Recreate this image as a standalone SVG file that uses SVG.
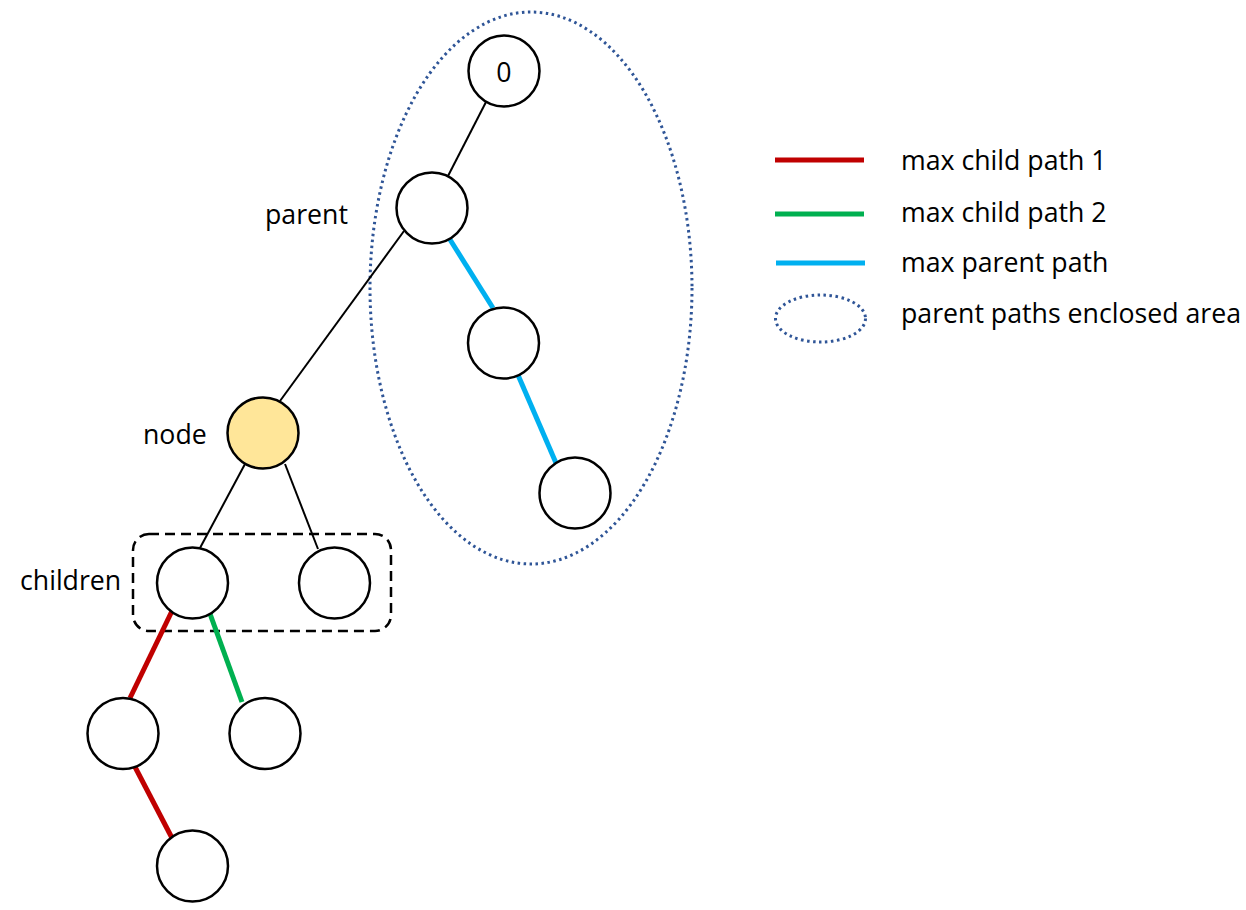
<svg xmlns="http://www.w3.org/2000/svg" width="1246" height="910" viewBox="0 0 1246 910">
<style>
.n{fill:#fff;stroke:#000;stroke-width:2.5}
.t{font-family:"Open Sans","Liberation Sans",sans-serif;font-size:26.7px;fill:#000}
.k{stroke:#000;stroke-width:2}
.r{stroke:#C00000;stroke-width:5}
.g{stroke:#00B050;stroke-width:5}
.b{stroke:#00B0F0;stroke-width:5}
.dot{fill:none;stroke:#2F5597;stroke-width:3;stroke-dasharray:2.5 3.5}
</style>
<rect width="1246" height="910" fill="#fff"/>
<ellipse class="dot" cx="531" cy="288" rx="161" ry="276"/>
<rect x="133" y="534" width="258" height="97" rx="16" fill="none" stroke="#000" stroke-width="2.5" stroke-dasharray="10 6"/>
<g id="connectors">
<line class="k" x1="486" y1="102" x2="448" y2="176"/>
<line class="k" x1="404" y1="231" x2="280" y2="401"/>
<line class="k" x1="245" y1="464" x2="200" y2="548"/>
<line class="k" x1="285" y1="464" x2="318" y2="549"/>
<line class="b" x1="449" y1="238" x2="493" y2="308"/>
<line class="b" x1="518" y1="375" x2="556" y2="463"/>
<line class="r" x1="172" y1="611" x2="130" y2="698"/>
<line class="r" x1="134" y1="765" x2="172" y2="838"/>
<line class="g" x1="209" y1="611" x2="242" y2="702"/>
</g>
<g id="n0"><circle class="n" cx="504" cy="71" r="35.5"/><text class="t" x="504" y="82" text-anchor="middle">0</text></g>
<g id="parent"><circle class="n" cx="432" cy="208" r="35.5"/><text class="t" x="265" y="224">parent</text></g>
<g id="p1"><circle class="n" cx="503.5" cy="343" r="35.5"/></g>
<g id="p2"><circle class="n" cx="575" cy="493" r="35.5"/></g>
<g id="node"><circle class="n" cx="263" cy="433" r="35.5" style="fill:#FFE699"/><text class="t" x="143" y="444">node</text></g>
<g id="c1"><circle class="n" cx="192.5" cy="583" r="35.5"/><text class="t" x="20" y="590">children</text></g>
<g id="c2"><circle class="n" cx="334.5" cy="583" r="35.5"/></g>
<g id="gc1"><circle class="n" cx="123" cy="733.5" r="35.5"/></g>
<g id="gc2"><circle class="n" cx="265" cy="733.5" r="35.5"/></g>
<g id="ggc"><circle class="n" cx="192.5" cy="866" r="35.5"/></g>
<g id="legend">
<line class="r" x1="775" y1="160" x2="864" y2="160"/>
<text class="t" x="901" y="170">max child path 1</text>
<line class="g" x1="775" y1="214" x2="864" y2="214"/>
<text class="t" x="901" y="222">max child path 2</text>
<line class="b" x1="776" y1="263" x2="865" y2="263"/>
<text class="t" x="901" y="272">max parent path</text>
<ellipse class="dot" cx="820.5" cy="318.5" rx="45" ry="23.5"/>
<text class="t" x="901" y="323">parent paths enclosed area</text>
</g>
</svg>
